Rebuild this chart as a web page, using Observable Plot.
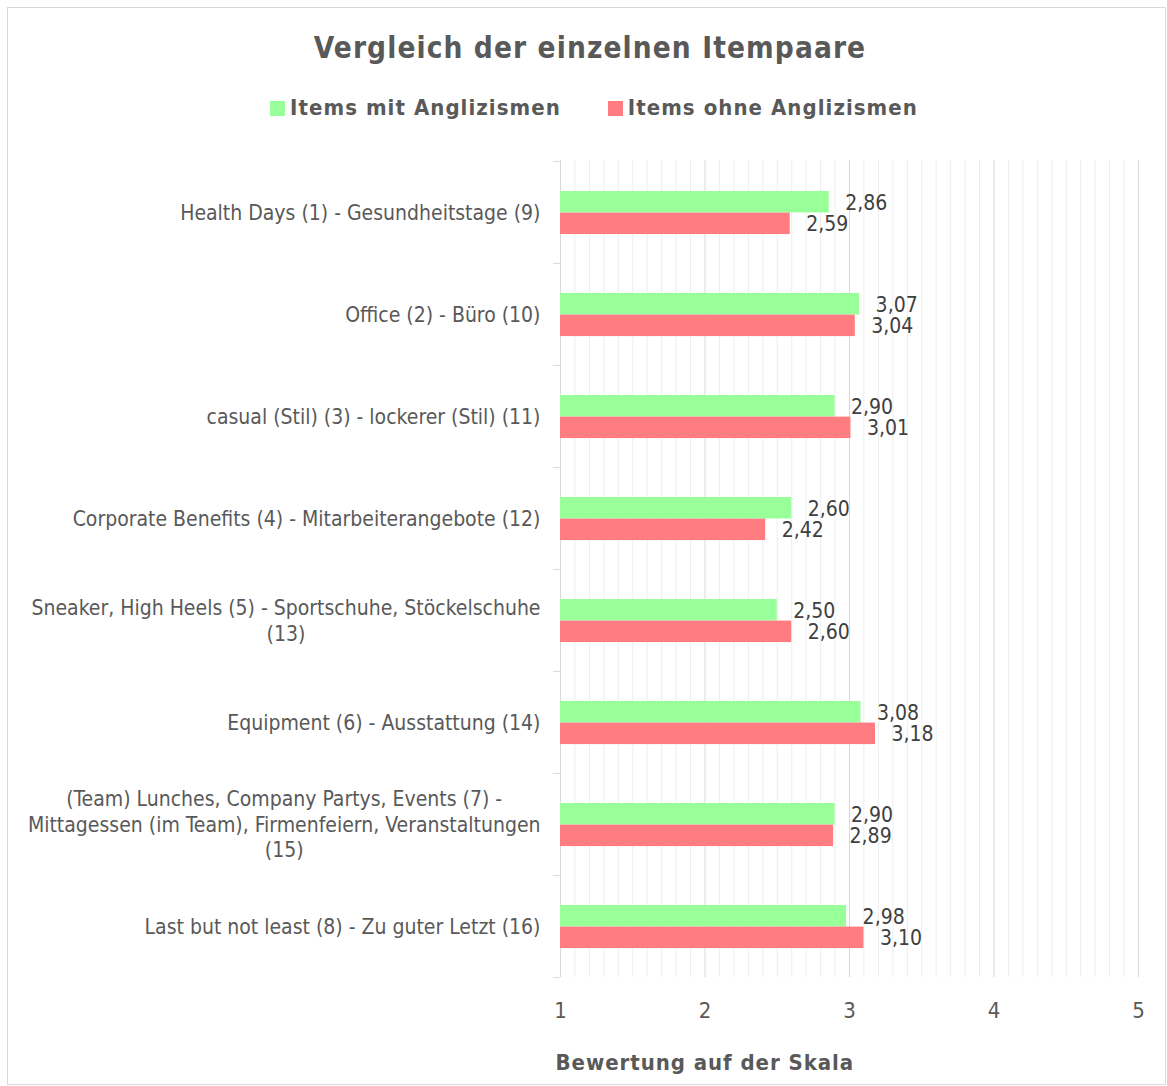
<!DOCTYPE html>
<html>
<head>
<meta charset="utf-8">
<script src="https://cdn.jsdelivr.net/npm/d3@7"></script>
<script src="https://cdn.jsdelivr.net/npm/@observablehq/plot@0.6"></script>
<style>
  body { margin: 0; background: #fff; }
  #wrap { position: relative; width: 1167px; height: 1086px; font-family: "DejaVu Sans Condensed", "Liberation Sans", sans-serif; color: #595959; }
  #border { position: absolute; left: 7px; top: 7px; width: 1159px; height: 1078px; border: 1px solid #d9d9d9; box-sizing: border-box; }
  #title { position: absolute; left: 8px; width: 1164px; top: 30px; text-align: center; font-size: 29.5px; letter-spacing: 1.1px; font-weight: bold; line-height: 36px; }
  #legend { position: absolute; left: 8px; width: 1172px; top: 94px; display: flex; justify-content: center; gap: 47px; font-size: 22px; letter-spacing: 1.05px; font-weight: bold; line-height: 28px; }
  #legend .item { display: flex; align-items: center; gap: 5px; }
  #legend .sw { width: 15px; height: 15px; display: inline-block; }
  #chart { position: absolute; left: 0; top: 140px; }
</style>
</head>
<body>
<div id="wrap">
  <div id="border"></div>
  <div id="title"></div>
  <div id="legend"></div>
  <div id="chart"></div>
</div>
<script>
const titleText = "Vergleich der einzelnen Itempaare";
const xAxisTitle = "Bewertung auf der Skala";
const seriesNames = ["Items mit Anglizismen", "Items ohne Anglizismen"];
const seriesColors = ["#99ff99", "#ff7c80"];
const items = [
  "Health Days (1) - Gesundheitstage (9)",
  "Office (2) - Büro (10)",
  "casual (Stil) (3) - lockerer (Stil) (11)",
  "Corporate Benefits (4) - Mitarbeiterangebote (12)",
  "Sneaker, High Heels (5) - Sportschuhe, Stöckelschuhe\n(13)",
  "Equipment (6) - Ausstattung (14)",
  "(Team) Lunches, Company Partys, Events (7) -\nMittagessen (im Team), Firmenfeiern, Veranstaltungen\n(15)",
  "Last but not least (8) - Zu guter Letzt (16)"
];
const mitAnglizismen = [2.86, 3.07, 2.90, 2.60, 2.50, 3.08, 2.90, 2.98];
const ohneAnglizismen = [2.59, 3.04, 3.01, 2.42, 2.60, 3.18, 2.89, 3.10];
const xTicks = [1, 2, 3, 4, 5];

const fontFamily = '"DejaVu Sans Condensed", "Liberation Sans", sans-serif';
const labelFontSize = 21;

document.getElementById("title").textContent = titleText;
const legend = document.getElementById("legend");
seriesNames.forEach((name, i) => {
  const el = document.createElement("div");
  el.className = "item";
  el.innerHTML = `<span class="sw" style="background:${seriesColors[i]}"></span><span>${name}</span>`;
  legend.appendChild(el);
});

const rowsMit = items.map((item, i) => ({item, value: mitAnglizismen[i]}));
const rowsOhne = items.map((item, i) => ({item, value: ohneAnglizismen[i]}));

const locale = d3.formatLocale({decimal: ",", thousands: ".", grouping: [3], currency: ["", "€"]});
const fmt = locale.format(".2f");

const xMin = xTicks[0], xMax = xTicks[xTicks.length - 1];
const minorTicks = d3.range(xMin * 10, xMax * 10 + 1).map(d => d / 10).filter(d => !Number.isInteger(d));

const W = 1167, H = 946, mL = 560, mR = 29, mT = 20, mB = 109;
const bandStep = (H - mT - mB) / items.length;

// measure multi-line labels to center them on their widest line
const ctx = document.createElement("canvas").getContext("2d");
ctx.font = `${labelFontSize}px ${fontFamily}`;
const labelGap = 20;
const singleLine = items.filter(d => !d.includes("\n"));
const multiLine = items.filter(d => d.includes("\n"));

const labelMarks = [
  Plot.text(singleLine, {y: d => d, text: d => d, frameAnchor: "left", textAnchor: "end", dx: -labelGap, dy: -1, fontSize: labelFontSize, fill: "#595959", lineHeight: 1.22})
];
for (const lab of multiLine) {
  const w = d3.max(lab.split("\n"), s => ctx.measureText(s).width);
  labelMarks.push(Plot.text([lab], {y: d => d, text: d => d, frameAnchor: "left", textAnchor: "middle", dx: -labelGap - w / 2, dy: -1, fontSize: labelFontSize, fill: "#595959", lineHeight: 1.22}));
}

const chart = Plot.plot({
  width: W, height: H,
  marginLeft: mL, marginRight: mR, marginTop: mT, marginBottom: mB,
  style: {fontFamily, background: "transparent", overflow: "visible"},
  x: {domain: [xMin, xMax]},
  y: {domain: items, padding: 0, axis: null},
  marks: [
    Plot.ruleX(minorTicks, {stroke: "#eeeeee", strokeWidth: 1}),
    Plot.ruleX(xTicks, {stroke: "#d9d9d9", strokeWidth: 1}),
    Plot.tickY(items, {y: d => d, dy: -bandStep / 2, stroke: "#d9d9d9", insetLeft: -7, insetRight: W - mL - mR}),
    Plot.tickY([items[items.length - 1]], {y: d => d, dy: bandStep / 2, stroke: "#d9d9d9", insetLeft: -7, insetRight: W - mL - mR}),
    Plot.barX(rowsMit, {x1: xMin, x2: "value", y: "item", fill: seriesColors[0], insetTop: 30, insetBottom: bandStep - 51.6}),
    Plot.barX(rowsOhne, {x1: xMin, x2: "value", y: "item", fill: seriesColors[1], insetTop: 51.6, insetBottom: bandStep - 73.2}),
    Plot.text(rowsMit, {x: "value", y: "item", text: d => fmt(d.value), textAnchor: "start", dx: 16, dy: -9.5, fontSize: 21, fill: "#404040"}),
    Plot.text(rowsOhne, {x: "value", y: "item", text: d => fmt(d.value), textAnchor: "start", dx: 16, dy: 12, fontSize: 21, fill: "#404040"}),
    Plot.axisX({ticks: xTicks, tickSize: 0, tickPadding: 25, fontSize: 22, fill: "#595959", label: null, tickFormat: d => String(d)}),
    Plot.text([xAxisTitle], {frameAnchor: "bottom-left", text: d => d, textAnchor: "start", lineAnchor: "middle", dx: -5, dy: 85, fontSize: 22, fontWeight: "bold", fill: "#595959"}),
    ...labelMarks
  ]
});
d3.select(chart).selectAll("text").filter(function() { return this.textContent === xAxisTitle; }).style("letter-spacing", "0.95px");
document.getElementById("chart").appendChild(chart);
</script>
</body>
</html>
